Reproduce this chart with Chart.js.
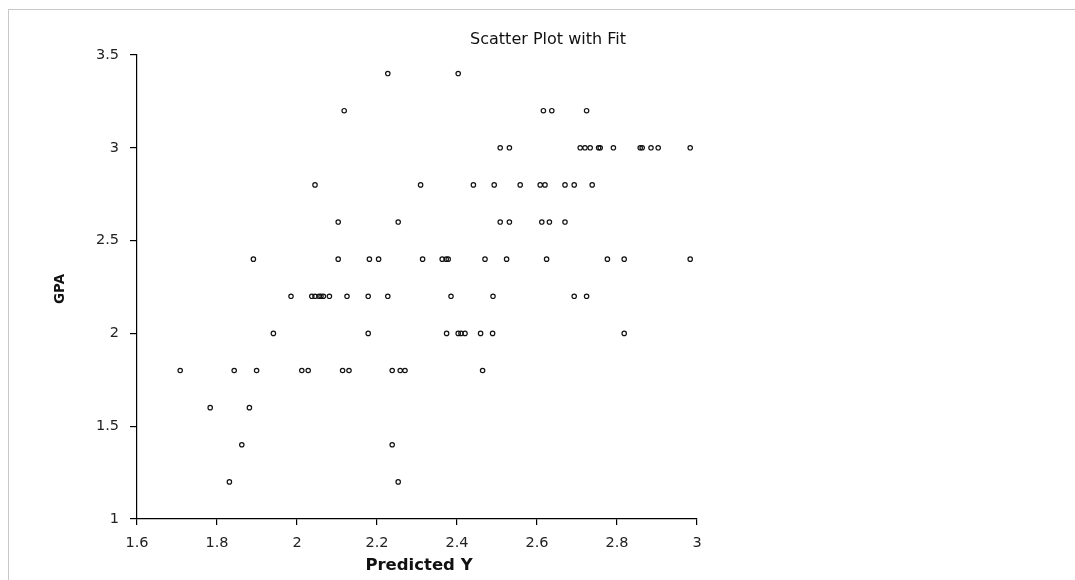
<!DOCTYPE html>
<html>
<head>
<meta charset="utf-8">
<script src="https://cdn.jsdelivr.net/npm/chart.js@4.4.0/dist/chart.umd.min.js"></script>
<style>
  html, body { margin: 0; padding: 0; background: #fff; }
  #wrap { position: relative; width: 1075px; height: 580px; overflow: hidden; }
  #frame { position: absolute; left: 8px; top: 9px; width: 1100px; height: 600px; border: 1px solid #c8c8c8; box-sizing: border-box; }
  canvas { position: absolute; left: 0; top: 0; }
</style>
</head>
<body>
<div id="wrap">
  <div id="frame"></div>
  <canvas id="c" width="1075" height="580"></canvas>
</div>
<script>
const chartTitle = 'Scatter Plot with Fit';
const xAxisTitle = 'Predicted Y';
const yAxisTitle = 'GPA';

const predictedY = [
  2.227, 2.403,
  2.118, 2.616, 2.637, 2.724,
  2.508, 2.531, 2.708, 2.720, 2.733, 2.754, 2.758, 2.791, 2.858, 2.863, 2.885, 2.903, 2.983,
  2.045, 2.309, 2.441, 2.493, 2.558, 2.608, 2.620, 2.670, 2.693, 2.738,
  2.103, 2.253, 2.508, 2.531, 2.612, 2.631, 2.670,
  1.891, 2.103, 2.181, 2.204, 2.314, 2.363, 2.373, 2.378, 2.470, 2.524, 2.624, 2.776, 2.818, 2.983,
  1.985, 2.037, 2.045, 2.055, 2.060, 2.066, 2.081, 2.125, 2.178, 2.227, 2.385, 2.490, 2.693, 2.724,
  1.941, 2.178, 2.374, 2.403, 2.410, 2.420, 2.459, 2.489, 2.818,
  1.708, 1.843, 1.899, 2.012, 2.028, 2.114, 2.130, 2.238, 2.258, 2.270, 2.464,
  1.783, 1.881,
  1.862, 2.238,
  1.831, 2.253
];
const gpa = [
  3.4, 3.4,
  3.2, 3.2, 3.2, 3.2,
  3.0, 3.0, 3.0, 3.0, 3.0, 3.0, 3.0, 3.0, 3.0, 3.0, 3.0, 3.0, 3.0,
  2.8, 2.8, 2.8, 2.8, 2.8, 2.8, 2.8, 2.8, 2.8, 2.8,
  2.6, 2.6, 2.6, 2.6, 2.6, 2.6, 2.6,
  2.4, 2.4, 2.4, 2.4, 2.4, 2.4, 2.4, 2.4, 2.4, 2.4, 2.4, 2.4, 2.4, 2.4,
  2.2, 2.2, 2.2, 2.2, 2.2, 2.2, 2.2, 2.2, 2.2, 2.2, 2.2, 2.2, 2.2, 2.2,
  2.0, 2.0, 2.0, 2.0, 2.0, 2.0, 2.0, 2.0, 2.0,
  1.8, 1.8, 1.8, 1.8, 1.8, 1.8, 1.8, 1.8, 1.8, 1.8, 1.8,
  1.6, 1.6,
  1.4, 1.4,
  1.2, 1.2
];

const xMin = 1.6, xMax = 3.0, xStep = 0.2;
const yMin = 1.0, yMax = 3.5, yStep = 0.5;

const points = predictedY.map((x, i) => ({ x: x, y: gpa[i] }));

const textPlugin = {
  id: 'texts',
  afterDraw(chart) {
    const ctx = chart.ctx;
    const a = chart.chartArea;
    ctx.save();
    ctx.fillStyle = '#111';
    ctx.textAlign = 'center';
    ctx.textBaseline = 'middle';
    ctx.font = '16px "DejaVu Sans"';
    ctx.fillText(chartTitle, 548, 40);
    ctx.font = 'bold 16.5px "DejaVu Sans"';
    ctx.fillText(xAxisTitle, (a.left + a.right) / 2 + 2, 566);
    ctx.translate(60, (a.top + a.bottom) / 2 + 2);
    ctx.rotate(-Math.PI / 2);
    ctx.font = 'bold 13.5px "DejaVu Sans"';
    ctx.fillText(yAxisTitle, 0, 0);
    ctx.restore();
  }
};

new Chart(document.getElementById('c'), {
  type: 'scatter',
  data: {
    datasets: [{
      data: points,
      pointStyle: 'circle',
      pointRadius: 2.2,
      pointBorderWidth: 1.2,
      pointBorderColor: '#111',
      pointBackgroundColor: 'rgba(255,255,255,0)',
      showLine: false
    }]
  },
  options: {
    responsive: false,
    animation: false,
    devicePixelRatio: 1,
    layout: { padding: { top: 55, right: 378, bottom: 0, left: 0 } },
    plugins: {
      legend: { display: false },
      title: { display: false },
      tooltip: { enabled: false }
    },
    scales: {
      x: {
        type: 'linear',
        min: xMin, max: xMax,
        afterFit(scale) { scale.height = 61; },
        border: { display: true, color: '#000', width: 1.2 },
        grid: { drawOnChartArea: false, drawTicks: true, tickLength: 6, color: '#000', lineWidth: 1.2 },
        ticks: {
          stepSize: xStep,
          padding: 10,
          color: '#222',
          font: { family: 'DejaVu Sans', size: 14.5 },
          maxRotation: 0,
          callback: v => String(+v.toFixed(1))
        }
      },
      y: {
        type: 'linear',
        min: yMin, max: yMax,
        afterFit(scale) { scale.width = 137; },
        border: { display: true, color: '#000', width: 1.2 },
        grid: { drawOnChartArea: false, drawTicks: true, tickLength: 7, color: '#000', lineWidth: 1.2 },
        ticks: {
          stepSize: yStep,
          padding: 11,
          color: '#222',
          font: { family: 'DejaVu Sans', size: 14.5 },
          callback: v => String(+v.toFixed(1))
        }
      }
    }
  },
  plugins: [textPlugin]
});
</script>
</body>
</html>
